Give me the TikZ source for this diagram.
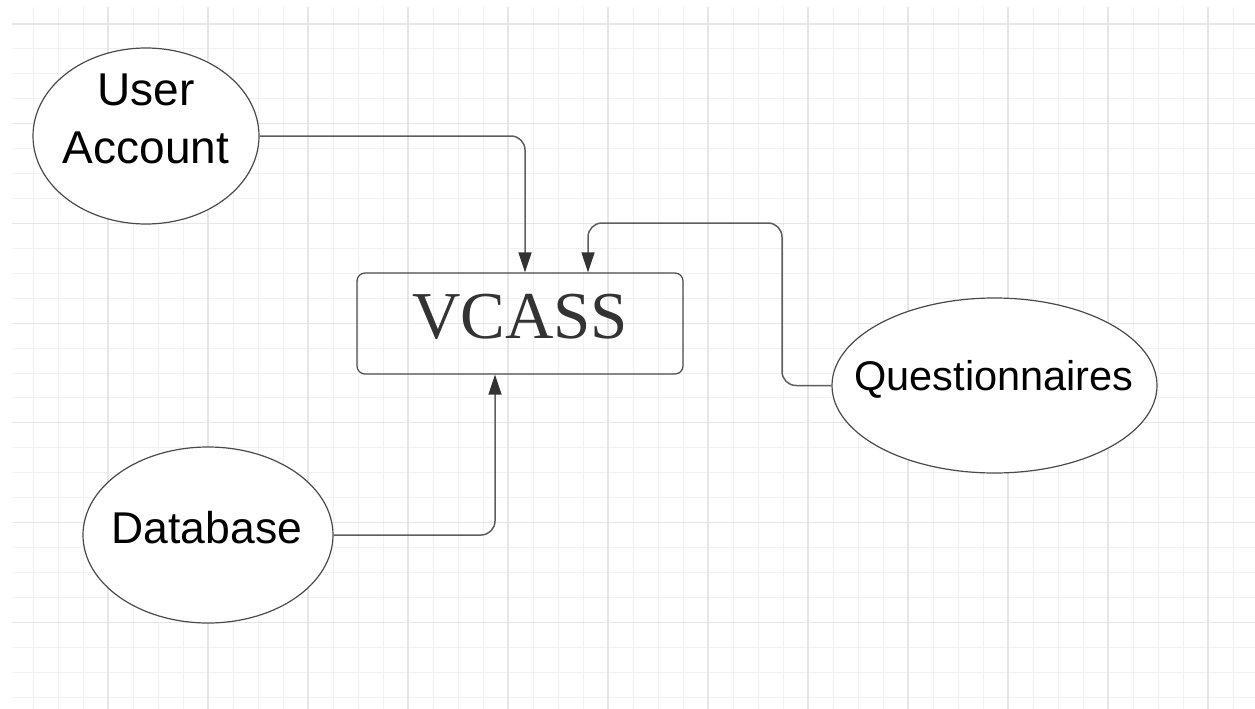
\documentclass[tikz,border=0pt]{standalone}
\usepackage{fontspec}
\usetikzlibrary{shapes.geometric,arrows.meta}
\newfontfamily\arialf{Liberation Sans}
\newfontfamily\timesf{Liberation Serif}
\definecolor{gminor}{HTML}{F1F1F1}
\definecolor{gmajor}{HTML}{E6E6E6}
\definecolor{edge}{HTML}{4A4A4A}
\definecolor{conn}{HTML}{5E5E5E}
\definecolor{tipc}{HTML}{333333}
\tikzset{
  minorline/.style={draw=gminor, line width=1pt},
  majorline/.style={draw=gmajor, line width=1.2pt},
  oval/.style={ellipse, draw=edge, fill=white, line width=1.2pt, inner sep=0pt},
  sysbox/.style={rectangle, draw=edge, line width=1.2pt, rounded corners=8pt, inner sep=0pt, minimum width=326pt, minimum height=101pt},
  lbl/.style={text=black, inner sep=0pt, anchor=base},
  conline/.style={draw=conn, line width=1.5pt, rounded corners=14pt, -{Triangle[length=20pt,width=13pt,fill=tipc,color=tipc]}}
}
\begin{document}
\begin{tikzpicture}[x=1pt,y=-1pt]
\useasboundingbox (0,0) rectangle (1255,709);
\fill[white] (0,0) rectangle (1255,709);
% grid
\foreach \k in {0,...,48} {
  \pgfmathsetmacro\xx{33+25*\k}
  \draw[minorline] (\xx,7) -- (\xx,709);
}
\foreach \k in {0,...,27} {
  \pgfmathsetmacro\yy{24+24.93*\k}
  \draw[minorline] (12,\yy) -- (1255,\yy);
}
\foreach \k in {3,7,...,47} {
  \pgfmathsetmacro\xx{33+25*\k}
  \draw[majorline] (\xx,7) -- (\xx,709);
}
\foreach \k in {0,4,...,24} {
  \pgfmathsetmacro\yy{24+24.93*\k}
  \draw[majorline] (12,\yy) -- (1255,\yy);
}
% nodes
\node[sysbox] (vc) at (520,323.5) {};
\node[font=\timesf\fontsize{67}{70}\selectfont, text=tipc, inner sep=0pt, anchor=base] (vct) at (520,338) {VCASS};
\node[oval, minimum width=226pt, minimum height=176pt] (ua) at (146,136) {};
\node[lbl, font=\arialf\fontsize{46}{58}\selectfont] (uat1) at (146,105) {User};
\node[lbl, font=\arialf\fontsize{46}{58}\selectfont] (uat2) at (146,163) {Account};
\node[oval, minimum width=250pt, minimum height=176pt] (db) at (208,535) {};
\node[lbl, font=\arialf\fontsize{44.5}{58}\selectfont] (dbt) at (207,543) {Database};
\node[oval, minimum width=325pt, minimum height=175pt] (q) at (994.5,385.5) {};
\node[lbl, font=\arialf\fontsize{41.5}{58}\selectfont] (qt) at (994,390) {Questionnaires};
% connectors
\coordinate (qc) at (782,223);
\draw[conline] (ua.east) -| ([xshift=5pt]vc.north);
\draw[conline] (q.west) -| (qc) -| ([xshift=68pt]vc.north);
\draw[conline] (db.east) -| ([xshift=-25pt]vc.south);
\end{tikzpicture}
\end{document}
